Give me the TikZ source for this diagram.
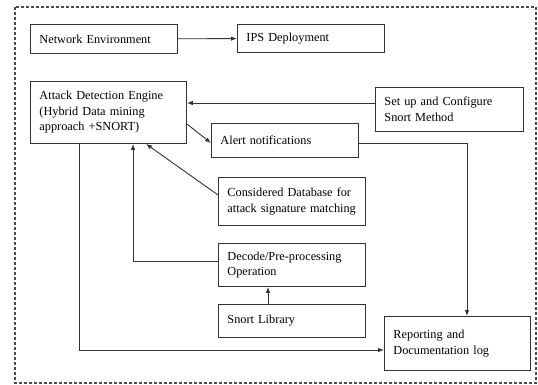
\documentclass[tikz,border=0pt]{standalone}
\usepackage{fontspec}
\setmainfont{Liberation Serif}
\usepackage{tikz}
\usetikzlibrary{arrows.meta}
\usetikzlibrary{positioning}
\usetikzlibrary{calc}
\tikzstyle{block}=[draw=black!80,rectangle,anchor=north west,align=left,inner sep=0pt,inner xsep=9pt,font=\fontsize{12.3}{15.5}\selectfont]
\tikzstyle{frame}=[draw=black!70,dash pattern=on 3pt off 2pt,line width=1.1pt]
\begin{document}
\begin{tikzpicture}[
  x=1pt, y=-1pt,
  line width=0.9pt,
  >={Latex[length=6pt,width=4.5pt]},
  size/.style 2 args={text width=#1,minimum height=#2},
  link/.style={->,draw=black!80},
]
  \useasboundingbox (0,0) rectangle (538,385);
  \draw[frame] (15,7) rectangle (536,383);
  % blocks
  \node[block,size={129pt}{29pt}] (net) at (30,24) {Network Environment};
  \node[block,size={129pt}{28pt}] (ips) at (237,24) {IPS Deployment};
  \node[block,size={138pt}{62pt}] (ade) at (30,81) {Attack Detection Engine\\(Hybrid Data mining\\approach +SNORT)};
  \node[block,size={130pt}{44pt}] (cfg) at (375,87) {Set up and Configure\\Snort Method};
  \node[block,size={129pt}{34pt}] (alert) at (211,123) {Alert notifications};
  \node[block,size={129pt}{48pt}] (db) at (218,177) {Considered Database for\\attack signature matching};
  \node[block,size={129pt}{43pt}] (dec) at (218,243) {Decode/Pre-processing\\Operation};
  \node[block,size={129pt}{33pt}] (lib) at (218,304) {Snort Library};
  \node[block,size={128pt}{54pt}] (rep) at (384,316) {Reporting and\\Documentation log};
  % connectors
  \draw[link] (net) -- (ips);
  \draw[link] (cfg.west |- 0,103) -- (ade.east |- 0,103);
  \draw[link] (ade.east |- 0,124) -- (alert.west |- 0,143);
  \draw[link] (alert.east |- 0,143) -| (rep.north -| 467,0);
  \draw[link] (db.west |- 0,195) -- (ade.south -| 146,0);
  \draw[link] (dec.west |- 0,261) -| (ade.south -| 133,0);
  \draw[link] (lib.north -| 268,0) -- (dec.south -| 268,0);
  \draw[link] (ade.south -| 79,0) |- (rep.west |- 0,350);
\end{tikzpicture}
\end{document}
